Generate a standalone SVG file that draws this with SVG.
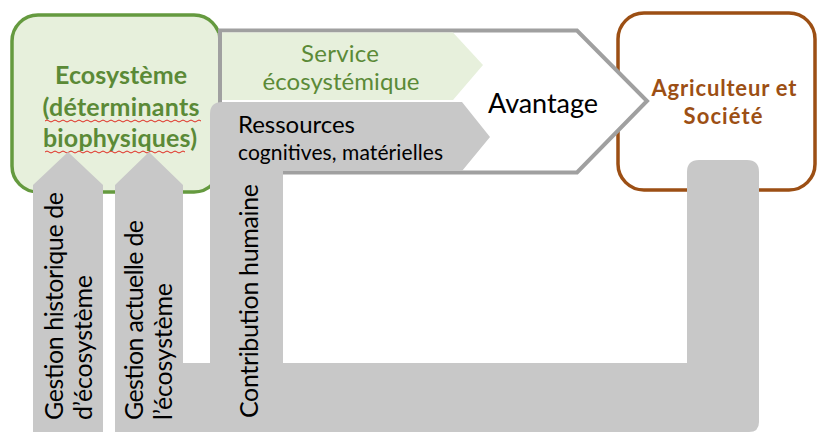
<svg xmlns="http://www.w3.org/2000/svg" width="818" height="432" viewBox="0 0 818 432">
<style>
.gray{fill:#c8c8c8}
.t{font-family:Lato,"Open Sans","Liberation Sans",sans-serif;fill:#000}
.v{font-size:25px}
.g{fill:#5b8a37}
.eco{font-family:Lato,"Open Sans","Liberation Sans",sans-serif;font-weight:bold;fill:#5b8a37;font-size:25px;text-anchor:middle}
.agr{font-family:Lato,"Open Sans","Liberation Sans",sans-serif;font-weight:bold;fill:#9c4f14;font-size:22px;text-anchor:middle}
.sq{fill:none;stroke:#e0281e;stroke-width:1}
</style>
<rect width="818" height="432" fill="#fff"/>
<g id="ecosysteme">
  <rect x="12" y="15" width="208" height="177" rx="26" fill="#e7f0dc" stroke="#659a3f" stroke-width="3.5"/>
  <line x1="220" y1="33" x2="220" y2="180" stroke="#e7f0dc" stroke-width="5"/>
  <line x1="220" y1="33" x2="220" y2="180" stroke="#659a3f" stroke-width="3.5" stroke-dasharray="14,10"/>
  <text class="eco" x="121" y="84" textLength="132">Ecosystème</text>
  <text class="eco" x="121" y="116" textLength="157">(déterminants</text>
  <text class="eco" x="120" y="147" textLength="154">biophysiques)</text>
  <path class="sq" d="M45,121 q2,-2 4,0 t4,0 t4,0 t4,0 t4,0 t4,0 t4,0 t4,0 t4,0 t4,0 t4,0 t4,0 t4,0 t4,0 t4,0 t4,0 t4,0 t4,0 t4,0 t4,0 t4,0 t4,0 t4,0 t4,0 t4,0 t4,0 t4,0 t4,0 t4,0 t4,0 t4,0 t4,0 t4,0 t4,0 t4,0 t4,0 t4,0 t4,0 t4,0"/>
  <path class="sq" d="M45,152 q2,-2 4,0 t4,0 t4,0 t4,0 t4,0 t4,0 t4,0 t4,0 t4,0 t4,0 t4,0 t4,0 t4,0 t4,0 t4,0 t4,0 t4,0 t4,0 t4,0 t4,0 t4,0 t4,0 t4,0 t4,0 t4,0 t4,0 t4,0 t4,0 t4,0 t4,0 t4,0 t4,0 t4,0 t4,0 t4,0"/>
</g>
<g id="agriculteur">
  <rect x="618" y="13" width="197" height="177" rx="26" fill="#fff" stroke="#9c4f14" stroke-width="3.5"/>
  <text class="agr" x="724" y="96" textLength="145">Agriculteur et</text>
  <text class="agr" x="723" y="124" textLength="79">Société</text>
</g>
<g id="connectors">
  <g id="avantage">
    <polygon points="220,30.5 577,30.5 647,101 577,172.5 220,172.5" fill="#fff" stroke="#a0a0a0" stroke-width="4"/>
    <text class="t" x="543" y="113" font-size="27" text-anchor="middle" textLength="110">Avantage</text>
  </g>
  <g id="service">
    <polygon points="222,32.5 453,32.5 483,65 453,100 222,100" fill="#e7f0dc"/>
    <text class="t g" x="340" y="62" font-size="24" text-anchor="middle" textLength="78">Service</text>
    <text class="t g" x="341" y="90" font-size="24" text-anchor="middle" textLength="157">écosystémique</text>
  </g>
  <g id="retour">
    <path class="gray" d="M115,432 L115,185 L149,152 L183,185 L183,363 L687,363 L687,172 Q687,160 699,160 L747,160 Q759,160 759,172 L759,422 Q759,432 749,432 Z"/>
    <text class="t v" transform="translate(143,420) rotate(-90)" textLength="200">Gestion actuelle de</text>
    <text class="t v" transform="translate(172,420) rotate(-90)" textLength="137">l’écosystème</text>
  </g>
  <g id="historique">
    <path class="gray" d="M33,432 L33,185 L68,152 L103,185 L103,432 Z"/>
    <text class="t v" transform="translate(63,420) rotate(-90)" textLength="228">Gestion historique de</text>
    <text class="t v" transform="translate(92,420) rotate(-90)" textLength="145">d’écosystème</text>
  </g>
  <g id="ressources">
    <path class="gray" d="M222,102 L462,102 L490,137 L462,171 L283,171 L283,432 L210,432 L210,114 Q210,102 222,102 Z"/>
    <text class="t" x="238" y="133" font-size="24" textLength="117">Ressources</text>
    <text class="t" x="238" y="160" font-size="21" textLength="205">cognitives, matérielles</text>
    <text class="t v" transform="translate(258,418) rotate(-90)" textLength="234">Contribution humaine</text>
  </g>
</g>
</svg>
